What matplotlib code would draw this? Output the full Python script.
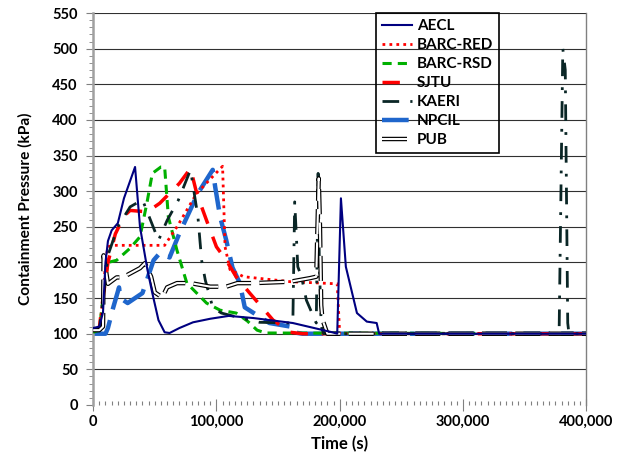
import numpy as np
import matplotlib
matplotlib.use("Agg")
import matplotlib.pyplot as plt
import matplotlib.patheffects as pe
from matplotlib.ticker import MultipleLocator, FuncFormatter

plt.rcParams['font.family'] = ['Lato', 'DejaVu Sans']
plt.rcParams['font.weight'] = 'bold'

# time in s, pressure in kPa
aecl_t = [0, 5e3, 8e3, 10e3, 12e3, 15e3, 20e3, 25e3, 34e3, 38e3, 44e3, 48e3, 53e3, 58e3, 62e3,
          70e3, 81e3, 95e3, 110e3, 130e3, 162e3, 194e3, 198e3, 201e3, 205e3, 214e3, 222e3,
          230e3, 232e3, 400e3]
aecl_p = [108, 110, 130, 200, 230, 245, 255, 290, 334, 250, 190, 157, 119, 102, 101,
          108, 116, 121, 125, 122, 115, 102, 100, 290, 194, 129, 117,
          115, 100, 100]

barc_red_t = [0, 5e3, 8e3, 10e3, 12e3, 16e3, 58e3, 68e3, 84e3, 105e3, 107e3, 111e3, 122e3,
              160e3, 198e3, 200e3, 400e3]
barc_red_p = [105, 105, 150, 200, 222, 224, 224, 250, 297, 335, 222, 190, 180,
              173, 170, 100, 100]

barc_rsd_t = [0, 5e3, 8e3, 12e3, 19e3, 30e3, 38e3, 44e3, 48e3, 55e3, 58e3, 61e3, 68e3, 76e3,
              92e3, 103e3, 116e3, 125e3, 133e3, 140e3, 400e3]
barc_rsd_p = [102, 105, 150, 200, 203, 220, 236, 287, 325, 334, 334, 264, 217, 171,
              143, 133, 129, 118, 105, 101, 100]

sjtu_t = [0, 5e3, 8e3, 12e3, 18e3, 25e3, 30e3, 44e3, 54e3, 70e3, 79e3, 84e3, 92e3, 100e3,
          108e3, 116e3, 127e3, 146e3, 160e3, 170e3, 400e3]
sjtu_p = [105, 108, 150, 200, 240, 265, 273, 271, 283, 311, 332, 297, 259, 222,
          203, 180, 157, 119, 102, 100, 100]

kaeri_t = [0, 5e3, 8e3, 12e3, 20e3, 30e3, 40e3, 53e3, 60e3, 69e3, 79e3, 85e3, 88e3, 91e3,
           97e3, 104e3, 120e3, 135e3, 162e3, 163.5e3, 164.5e3, 166e3, 169e3, 173e3, 181e3,
           182.5e3, 183.5e3, 185e3, 187e3, 378e3, 381e3, 383e3, 385e3, 386e3, 400e3]
kaeri_p = [105, 106, 150, 210, 250, 278, 288, 231, 259, 287, 330, 264, 203, 175,
           137, 129, 122, 116, 115, 285, 250, 194, 180, 147, 115,
           325, 200, 110, 100, 100, 500, 470, 115, 100, 100]

npcil_t = [0, 10e3, 12e3, 16e3, 21e3, 22e3, 28e3, 40e3, 49e3, 54e3, 62e3, 70e3, 85e3, 97e3,
           99e3, 103e3, 108e3, 113e3, 119e3, 123e3, 143e3, 160e3, 162e3, 170e3, 400e3]
npcil_p = [100, 100, 108, 135, 165, 150, 143, 157, 203, 213, 207, 241, 297, 330,
           306, 264, 231, 193, 171, 137, 115, 110, 102, 100, 100]

pub_t = [0, 5e3, 8e3, 8.5e3, 12e3, 19e3, 24e3, 38e3, 42e3, 47e3, 50e3, 56e3, 60e3, 68e3,
         79e3, 95e3, 108e3, 117e3, 130e3, 160e3, 176e3, 181e3, 182e3, 183e3, 184e3, 185e3,
         186e3, 190e3, 400e3]
pub_p = [105, 105, 110, 210, 170, 179, 179, 192, 199, 180, 158, 151, 165, 171,
         171, 166, 166, 171, 171, 173, 178, 180, 250, 318, 250, 140,
         120, 100, 100]

fig = plt.figure(figsize=(6.21, 4.63), dpi=100)
ax = fig.add_axes([0.150, 0.1253, 0.794, 0.8466])

ax.plot(aecl_t, aecl_p, color='#000080', lw=1.5, label='AECL', zorder=5)
ax.plot(barc_red_t, barc_red_p, color='#ff0000', lw=2, ls=(0, (1, 1.5)), label='BARC-RED', zorder=4)
ax.plot(barc_rsd_t, barc_rsd_p, color='#00b000', lw=2.2, ls=(0, (3, 2)), label='BARC-RSD', zorder=3)
ax.plot(sjtu_t, sjtu_p, color='#ff0000', lw=2.5, ls=(0, (5, 4)), label='SJTU', zorder=3)
ax.plot(kaeri_t, kaeri_p, color='#0a2626', lw=2, ls=(0, (6, 4, 1, 4)), label='KAERI', zorder=4)
ax.plot(npcil_t, npcil_p, color='#1f66cc', lw=3.2, ls=(0, (6, 2.5)), label='NPCIL', zorder=2)
ax.plot(pub_t, pub_p, color='white', lw=1.5, ls=(0, (12, 4)), label='PUB', zorder=4,
        path_effects=[pe.Stroke(linewidth=3.2, foreground='black'), pe.Normal()])

ax.set_xlim(0, 400000)
ax.set_ylim(0, 550)
ax.xaxis.set_major_locator(MultipleLocator(100000))
ax.xaxis.set_minor_locator(MultipleLocator(5000))
ax.yaxis.set_major_locator(MultipleLocator(50))
ax.yaxis.set_minor_locator(MultipleLocator(10))
ax.xaxis.set_major_formatter(FuncFormatter(lambda v, p: f'{int(v):,}'))

for y in range(50, 551, 50):
    ax.axhline(y, color='#303030', lw=0.8, zorder=1)

ax.spines['bottom'].set_visible(False)
ax.spines['top'].set_visible(False)
ax.spines['left'].set_color('#a0a0a0')
ax.spines['left'].set_linewidth(1.8)
ax.spines['right'].set_color('#808080')
ax.spines['right'].set_linewidth(1)

ax.tick_params(axis='x', which='major', direction='inout', length=8, color='#808080',
               labelsize=10.5, pad=3)
ax.tick_params(axis='x', which='minor', direction='in', length=3, color='#808080', width=0.8)
ax.tick_params(axis='y', which='major', direction='out', length=5, color='#808080',
               labelsize=10.5, pad=6)
ax.tick_params(axis='y', which='minor', direction='out', length=3, color='#808080')
for lab in ax.get_xticklabels() + ax.get_yticklabels():
    lab.set_fontweight('bold')

ax.set_xlabel('Time (s)', fontsize=12, fontweight='bold', labelpad=5)
ax.set_ylabel('Containment Pressure (kPa)', fontsize=11.2, fontweight='bold', labelpad=14)

leg = ax.legend(loc='upper left', bbox_to_anchor=(0.573, 1.0), frameon=True, fancybox=False,
                facecolor='none', framealpha=1, edgecolor='black', fontsize=11,
                handlelength=2.0, borderpad=0.4, labelspacing=0.33, handletextpad=0.3,
                borderaxespad=0)
leg.get_frame().set_linewidth(1.2)
for t in leg.get_texts():
    t.set_fontweight('bold')

fig.savefig('out.png', dpi=100)
